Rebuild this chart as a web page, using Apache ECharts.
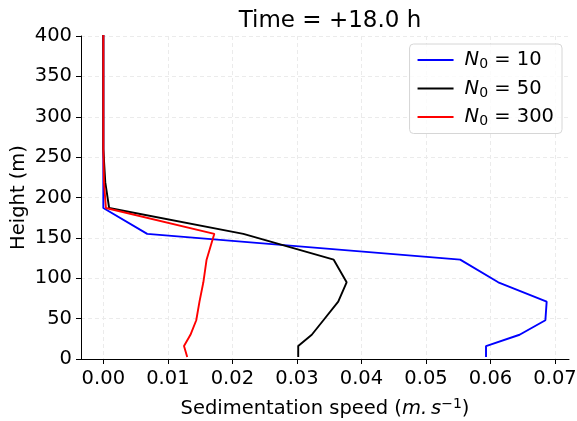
<!DOCTYPE html>
<html>
<head>
<meta charset="utf-8">
<script src="https://cdn.jsdelivr.net/npm/echarts@6/dist/echarts.min.js"></script>
<style>
  html, body { margin: 0; padding: 0; background: #fff; }
  #chart { width: 577px; height: 421px; }
</style>
</head>
<body>
<div id="chart"></div>
<script>
// model levels (m)
const heights = [2.5, 16, 30, 48, 71, 95, 123, 155, 187, 219, 260, 300, 350, 410];

// sedimentation speed (m/s) for each N0
const speedN10 = [0.0593, 0.0593, 0.0645, 0.0685, 0.0687, 0.0612, 0.0553, 0.0068, 0.0000, 0.0000, 0, 0, 0, 0];
const speedN50 = [0.0302, 0.0302, 0.0323, 0.0341, 0.0364, 0.0377, 0.0357, 0.0217, 0.0009, 0.0003, 0, 0, 0, 0];
const speedN300 = [0.0130, 0.0125, 0.0135, 0.0144, 0.0149, 0.0155, 0.0160, 0.0172, 0.0004, 0.0001, 0, 0, 0, 0];

const xTicks = [0, 0.01, 0.02, 0.03, 0.04, 0.05, 0.06, 0.07];
const legendNames = ['10', '50', '300'];

const FONT = 'DejaVu Sans';
const FS = 19.5;

const chart = echarts.init(document.getElementById('chart'));

function pairs(xs) {
  return xs.map((x, i) => [x, heights[i]]);
}

const seriesDefs = [
  { key: legendNames[0], color: '#0000ff', data: speedN10 },
  { key: legendNames[1], color: '#000000', data: speedN50 },
  { key: legendNames[2], color: '#ff0000', data: speedN300 }
];

chart.setOption({
  animation: false,
  textStyle: { fontFamily: FONT },
  title: {
    text: 'Time = +18.0 h',
    left: 325,
    textAlign: 'center',
    top: 5,
    textStyle: { fontFamily: FONT, fontSize: 23, fontWeight: 'normal', color: '#000' }
  },
  grid: { left: 81, right: 8, top: 36, bottom: 62, containLabel: false, outerBoundsMode: 'none' },
  legend: {
    right: 15,
    top: 44,
    orient: 'vertical',
    itemWidth: 36,
    itemHeight: 2,
    itemGap: 7,
    padding: [6, 8, 5, 8],
    borderColor: '#d6d6d6',
    borderWidth: 1,
    borderRadius: 4,
    backgroundColor: 'rgba(255,255,255,0.8)',
    icon: 'rect',
    data: seriesDefs.map(s => s.key),
    formatter: name => '{n|N}{s|0}{t| = ' + name + '}',
    textStyle: {
      fontFamily: FONT,
      color: '#000',
      padding: [0, 0, 0, 6],
      rich: {
        n: { fontFamily: FONT, fontStyle: 'italic', fontSize: FS, color: '#000' },
        s: { fontFamily: FONT, fontSize: 14, color: '#000', padding: [9, 0, 0, 0] },
        t: { fontFamily: FONT, fontSize: FS, color: '#000' }
      }
    }
  },
  xAxis: {
    type: 'value',
    min: -0.00346,
    max: 0.07216,
    name: '{a|Sedimentation speed (}{i|m.\u2009s}{sup|\u22121}{a|)}',
    nameLocation: 'middle',
    nameGap: 38,
    nameMoveOverlap: false,
    nameTextStyle: {
      rich: {
        a: { fontFamily: FONT, fontSize: FS, color: '#000' },
        i: { fontFamily: FONT, fontSize: FS, fontStyle: 'italic', color: '#000' },
        sup: { fontFamily: FONT, fontSize: 14, color: '#000', padding: [0, 0, 10, 0] }
      }
    },
    axisLine: { onZero: false, lineStyle: { color: '#000', width: 1 } },
    axisTick: { show: true, length: 5, lineStyle: { color: '#000' }, customValues: xTicks },
    axisLabel: {
      customValues: xTicks,
      fontFamily: FONT,
      fontSize: FS,
      color: '#000',
      margin: 10,
      formatter: v => v.toFixed(2)
    },
    splitLine: { show: true, lineStyle: { color: '#ebebeb', type: [4, 3], width: 1 } }
  },
  yAxis: {
    type: 'value',
    min: 0,
    max: 400,
    interval: 50,
    name: 'Height (m)',
    nameLocation: 'middle',
    nameGap: 52,
    nameMoveOverlap: false,
    nameTextStyle: { fontFamily: FONT, fontSize: FS, color: '#000' },
    axisLine: { show: true, onZero: false, lineStyle: { color: '#000', width: 1 } },
    axisTick: { show: true, length: 5, lineStyle: { color: '#000' } },
    axisLabel: { fontFamily: FONT, fontSize: FS, color: '#000', margin: 9 },
    splitLine: { show: true, lineStyle: { color: '#ebebeb', type: [4, 3], width: 1 } }
  },
  series: seriesDefs.map(s => ({
    name: s.key,
    type: 'line',
    data: pairs(s.data),
    showSymbol: false,
    symbol: 'none',
    clip: true,
    lineStyle: { color: s.color, width: 1.9 },
    itemStyle: { color: s.color }
  }))
});
</script>
</body>
</html>
